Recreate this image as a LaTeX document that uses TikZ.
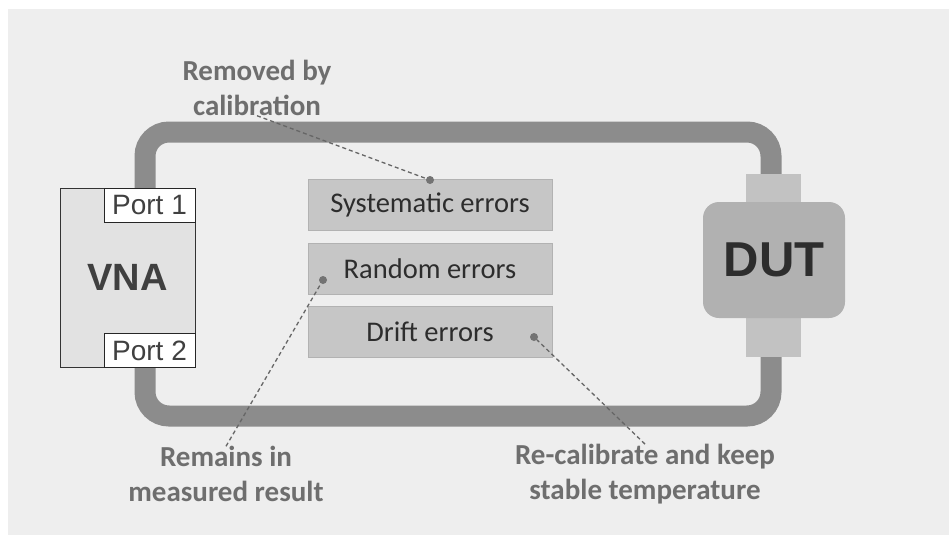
\documentclass[tikz,border=0pt]{standalone}
\usepackage{fontspec}
\setmainfont{Carlito}
\newfontfamily\arialfont{Liberation Sans}
\usetikzlibrary{positioning}
\definecolor{bggray}{RGB}{238,238,238}
\definecolor{cablegray}{RGB}{140,140,140}
\definecolor{errgray}{RGB}{198,198,198}
\definecolor{dutgray}{RGB}{177,177,177}
\definecolor{pluggray}{RGB}{194,194,194}
\definecolor{vnagray}{RGB}{226,226,226}
\definecolor{notegray}{RGB}{110,110,110}
\definecolor{textdark}{RGB}{45,45,45}

\begin{document}
\begin{tikzpicture}[x=1pt, y=-1pt,
  errbox/.style={draw=errgray!90!black, fill=errgray, minimum width=244pt,
                 minimum height=51pt, inner sep=0pt, text=textdark,
                 font=\fontsize{28.5}{32}\selectfont},
  note/.style={align=center, inner sep=0pt, text=notegray,
               font=\bfseries\fontsize{29}{34.5}\selectfont},
  port/.style={draw=black!85, fill=white, line width=1pt, minimum width=91pt,
               minimum height=34pt, inner sep=0pt, text=black!75,
               font=\arialfont\fontsize{28}{28}\selectfont},
  plug/.style={fill=pluggray, minimum width=55pt, minimum height=29pt, inner sep=0pt},
  dot/.style={circle, fill=black!55, inner sep=0pt, minimum size=8pt},
  lead/.style={draw=black!60, line width=1.3pt, dash pattern=on 4pt off 3pt},
  cable/.style={draw=cablegray, line width=21pt, rounded corners=24pt},
  node distance=12pt
]

\path[use as bounding box, fill=white] (0,0) rectangle (949,535);
\fill[bggray] (8,9) rectangle (949,535);

% test cable loop
\draw[cable] (145,132) rectangle (771,416);

% analyser
\node[draw=black!80, fill=vnagray, line width=1pt, minimum width=135pt,
      minimum height=179pt, text=black!75,
      font=\arialfont\bfseries\fontsize{38}{38}\selectfont] (vna) at (127.5,277.5) {VNA};
\node[port] (port1) at (149.5,205) {Port 1};
\node[port] (port2) at (149.5,350.5) {Port 2};

% device under test
\node[plug] (plugtop) at (773.5,188.5) {};
\node[plug, minimum height=39pt] (plugbot) at (773.5,337.5) {};
\node[fill=dutgray, rounded corners=16pt, minimum width=142pt, minimum height=116pt,
      text=textdark, font=\arialfont\bfseries\fontsize{49}{49}\selectfont] (dut) at (774,260) {DUT};

% error types
\node[errbox] (sys) at (430,205) {Systematic errors};
\node[errbox, below=of sys] (rnd) {Random errors};
\node[errbox, below=of rnd] (drift) {Drift errors};

\node[dot] (sysdot) at (430,180) {};
\node[dot] (rnddot) at (323,280) {};
\node[dot] (driftdot) at (534,337) {};

% notes
\node[note] (removed) at (257,88) {Removed by\\calibration};
\node[note] (remains) at (226,474) {Remains in\\measured result};
\node[note] (recal) at (645,474) {Re-calibrate and keep\\stable temperature};

\draw[lead] (removed.south) -- (sysdot);
\draw[lead] (remains.north) -- (rnddot);
\draw[lead] (recal.north) -- (driftdot);

\end{tikzpicture}
\end{document}
